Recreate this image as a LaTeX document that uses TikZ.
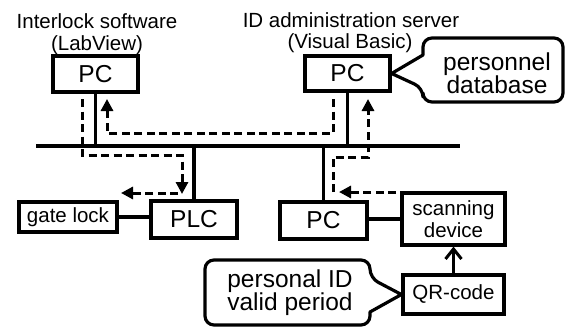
\documentclass[tikz,border=0pt]{standalone}
\usepackage{fontspec}
\setmainfont{Liberation Sans}
\usetikzlibrary{arrows.meta,calc}
\begin{document}
\begin{tikzpicture}[x=1pt,y=-1pt,
  bigbox/.style={draw,line width=3.2pt,inner sep=0pt,font=\fontsize{24.5}{26}\selectfont},
  smallbox/.style={draw,line width=3.2pt,inner sep=0pt,align=center,font=\fontsize{20.5}{22}\selectfont},
  lbl/.style={inner sep=0pt,anchor=base,font=\fontsize{20.5}{22}\selectfont},
  calltext/.style={inner sep=0pt,align=center,font=\fontsize{24.5}{23}\selectfont},
  wire/.style={line width=3.2pt},
  balloon/.style={line width=3.2pt,line join=round},
  dflow/.style={line width=3pt,dash pattern=on 8pt off 4.5pt,-{Triangle[length=12pt,width=12pt]}},
  dline/.style={line width=3pt,dash pattern=on 8pt off 4.5pt}]
\useasboundingbox (0,0) rectangle (565,329);

% labels
\node[lbl] (l1a) at (97,29) {Interlock software};
\node[lbl] (l1b) at (97,51) {(LabView)};
\node[lbl] (l2a) at (351,28) {ID administration server};
\node[lbl] (l2b) at (350,49) {(Visual Basic)};

% boxes
\node[bigbox,minimum width=85pt,minimum height=36pt] (lpc) at (95.5,74) {PC};
\node[bigbox,minimum width=85pt,minimum height=35pt] (rpc) at (347.5,73.5) {PC};
\node[bigbox,minimum width=86pt,minimum height=37pt] (plc) at (194,219.5) {PLC};
\node[smallbox,minimum width=98pt,minimum height=30pt] (gate) at (68,217) {gate lock};
\node[bigbox,minimum width=87pt,minimum height=37pt] (bpc) at (323.5,220.5) {PC};
\node[smallbox,minimum width=103pt,minimum height=52pt] (scan) at (453.5,219) {scanning\\device};
\node[smallbox,minimum width=101pt,minimum height=39pt] (qr) at (453.5,294.5) {QR-code};

% callouts
\node[calltext] (db) at (497,73) {personnel\\database};
\node[calltext] (pid) at (290,293) {personal ID\\valid period};
\draw[balloon] (rpc.east) -- (423,55) [rounded corners=9pt] -- (423,38) -- (563,38) -- (563,102) -- (423,102) -- (423,88) [sharp corners] -- cycle;
\draw[balloon] (qr.west) -- (370,312) [rounded corners=9pt] -- (370,325) -- (205,325) -- (205,260) -- (370,260) -- (370,278) [sharp corners] -- cycle;

% bus and wires
\coordinate (busL) at (36,146);
\coordinate (busR) at (460,146);
\draw[wire] (busL) -- (busR);
\draw[wire] (lpc.south) -- (lpc.south |- busL);
\draw[wire] (rpc.south) -- (rpc.south |- busL);
\draw[wire] (plc.north) -- (plc.north |- busL);
\draw[wire] (bpc.north) -- (bpc.north |- busL);
\draw[wire] (gate.east) -- (gate.east -| plc.west);
\draw[wire] (scan.west) -- (scan.west -| bpc.east);
\draw[wire,-{Straight Barb[length=10pt,width=16pt,line width=3pt]}] (qr.north) -- (scan.south);

% dashed flows
\coordinate (a1) at (82,99);
\coordinate (a2) at (82,155);
\coordinate (a3) at (182,155);
\coordinate (a4) at (182,194);
\draw[dflow] (a1) -- (a2) -- (a3) -- (a4);
\coordinate (b1) at (178,193);
\coordinate (b2) at (121,193);
\draw[dflow] (b1) -- (b2);
\coordinate (c1) at (333,99);
\coordinate (c2) at (333,133);
\coordinate (c3) at (107,133);
\coordinate (c4) at (107,99);
\draw[dflow] (c1) -- (c2) -- (c3) -- (c4);
\coordinate (e1) at (396,192);
\coordinate (e2) at (339,192);
\draw[dflow] (e1) -- (e2);
\coordinate (f1) at (333,192);
\coordinate (f2) at (333,157);
\coordinate (f3) at (368,157);
\coordinate (f4) at (368,99);
\draw[dflow] (f1) -- (f2) -- (f3) -- (f4);
\end{tikzpicture}
\end{document}
